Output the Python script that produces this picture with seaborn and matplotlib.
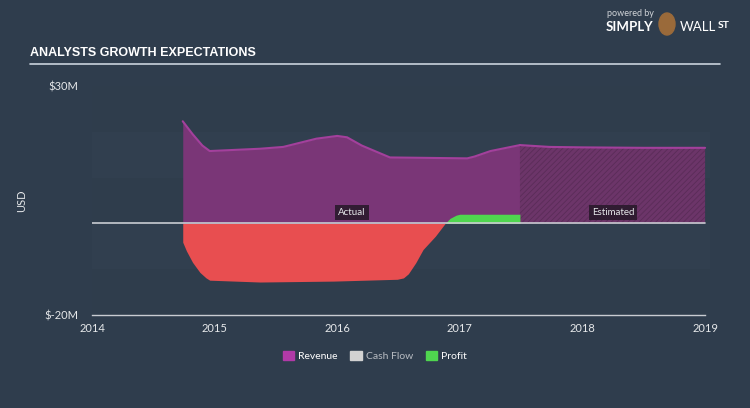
import matplotlib
matplotlib.use("Agg")
import matplotlib.pyplot as plt
import matplotlib.patches as mpatches
import numpy as np
import pandas as pd
import seaborn as sns

# ---- data (USD millions) ----
rev_x = [2014.74, 2014.82, 2014.90, 2014.96, 2015.37, 2015.56, 2015.83, 2016.0, 2016.08, 2016.2, 2016.43, 2016.75, 2017.06, 2017.12, 2017.25, 2017.49]
rev_y = [22.3, 19.5, 17.0, 15.8, 16.3, 16.7, 18.5, 19.1, 18.8, 17.0, 14.4, 14.3, 14.2, 14.6, 15.8, 17.1]
est_x = [2017.49, 2017.73, 2018.0, 2018.5, 2019.0]
est_y = [17.1, 16.7, 16.6, 16.5, 16.5]
profit_x = [2014.74, 2014.77, 2014.82, 2014.88, 2014.93, 2014.96, 2015.37, 2015.97, 2016.49, 2016.54, 2016.58, 2016.64, 2016.70, 2016.80, 2016.88, 2016.92, 2016.97, 2017.0, 2017.49]
profit_y = [-4.1, -6.0, -8.5, -10.7, -11.9, -12.4, -12.8, -12.6, -12.2, -11.9, -11.0, -8.6, -5.7, -2.8, 0.0, 1.1, 1.8, 2.0, 2.0]
x_ticks = [2014, 2015, 2016, 2017, 2018, 2019]
y_ticks = [-20, 30]
y_tick_labels = ["$-20M", "$30M"]
legend_labels = ["Revenue", "Cash Flow", "Profit"]

BG = "#2f3d4d"
REV_FILL = "#7a3677"
REV_LINE = "#a3409c"
EST_FILL = "#6c3569"
RED = "#e84e50"
GREEN = "#4fd64f"
TXT = "#e6e8ea"

sns.set_theme(style="dark")
plt.rcParams["font.family"] = ["Lato", "DejaVu Sans"]
plt.rcParams["hatch.linewidth"] = 0.6

fig = plt.figure(figsize=(7.5, 4.08), dpi=100, facecolor=BG)
L, R = 92 / 750, 710 / 750
B, T = 1 - 315 / 408, 1 - 86 / 408
ax = fig.add_axes([L, B, R - L, T - B])
ax.set_facecolor("#303e4e")

# subtle horizontal bands
band_cols = ["#2f3d4c", "#313f4f"]
for i, lo in enumerate(range(-20, 30, 10)):
    ax.axhspan(lo, lo + 10, color=band_cols[i % 2], lw=0, zorder=0)

df_rev = pd.DataFrame({"x": rev_x, "y": rev_y})
df_est = pd.DataFrame({"x": est_x, "y": est_y})

# revenue actual
ax.fill_between(df_rev.x, 0, df_rev.y, color=REV_FILL, lw=0, zorder=2)
sns.lineplot(data=df_rev, x="x", y="y", ax=ax, color=REV_LINE, lw=1.5, zorder=3)
# revenue estimated (hatched)
ax.fill_between(df_est.x, 0, df_est.y, facecolor=EST_FILL, edgecolor="#5a2c58",
                hatch="//////", lw=0, zorder=2)
sns.lineplot(data=df_est, x="x", y="y", ax=ax, color=REV_LINE, lw=1.5, zorder=3)

# profit
px = np.array(profit_x)
py = np.array(profit_y)
ax.fill_between(px, 0, py, where=py <= 0, interpolate=True, color=RED, lw=0, zorder=4)
ax.fill_between(px, 0, py, where=py >= 0, interpolate=True, color=GREEN, lw=0, zorder=4)

# zero line
ax.plot([2014, 2019], [0, 0], color="#c9ccd2", lw=1.2, zorder=5)

# Actual / Estimated labels
box = dict(boxstyle="square,pad=0.3", fc="#2a1a2c", ec="none", alpha=0.9)
ax.text(2016.12, 2.4, "Actual", color=TXT, fontsize=7, ha="center", va="center", bbox=box, zorder=6)
ax.text(2018.25, 2.4, "Estimated", color=TXT, fontsize=7, ha="center", va="center", bbox=box, zorder=6)

ax.set_xlim(2014, 2019.04)
ax.set_ylim(-20, 30)
ax.set_xticks(x_ticks)
ax.set_xticklabels([str(t) for t in x_ticks], color=TXT, fontsize=8)
ax.set_yticks(y_ticks)
ax.set_yticklabels(y_tick_labels, color=TXT, fontsize=8)
ax.tick_params(axis="x", direction="out", length=5, width=1, color="#c9ccd2", pad=1)
ax.tick_params(axis="y", length=0, pad=10)
ax.set_xlabel("")
ax.set_ylabel("USD", color=TXT, fontsize=8, labelpad=12)
ax.grid(False)
for s in ["top", "right", "left"]:
    ax.spines[s].set_visible(False)
ax.spines["bottom"].set_color("#c9ccd2")
ax.spines["bottom"].set_linewidth(1)
ax.spines["bottom"].set_bounds(2014, 2019)

# title and rule
fig.text(30 / 750, 1 - 53 / 408, "ANALYSTS GROWTH EXPECTATIONS", color="white", fontsize=9,
         fontweight="bold", family=["Liberation Sans Narrow", "Liberation Sans", "DejaVu Sans"],
         fontstretch="condensed", va="center", ha="left")
fig.add_artist(plt.Line2D([30 / 750, 720 / 750], [1 - 64 / 408, 1 - 64 / 408],
                          color="#c9d3dc", lw=1.2, transform=fig.transFigure))

# logo text
fig.text(607 / 750, 1 - 14 / 408, "powered by", color="#d0d4d8", fontsize=6.5, va="center")
fig.text(606 / 750, 1 - 27 / 408, "SIMPLY", color="white", fontsize=9.5, fontweight="bold", va="center")
fig.add_artist(mpatches.Ellipse((667 / 750, 1 - 24 / 408), 16 / 750, 22 / 408,
                                color="#9a6a3a", transform=fig.transFigure))
fig.text(680 / 750, 1 - 27 / 408, "WALL", color="white", fontsize=9.5, va="center")
fig.text(718 / 750, 1 - 26 / 408, "ST", color="white", fontsize=7.5, fontweight="bold", va="center")

# legend
handles = [mpatches.Patch(color="#b13aa8"), mpatches.Patch(color="#d2d2d2"), mpatches.Patch(color=GREEN)]
leg = fig.legend(handles, legend_labels, loc="center", bbox_to_anchor=(375 / 750, 1 - 356 / 408),
                 ncol=3, frameon=False, fontsize=7.5, handlelength=1.1, handleheight=1.0,
                 handletextpad=0.4, columnspacing=1.2)
for t, c in zip(leg.get_texts(), ["white", "#b8bcc2", "white"]):
    t.set_color(c)

fig.savefig("out.png", dpi=100, facecolor=BG)
